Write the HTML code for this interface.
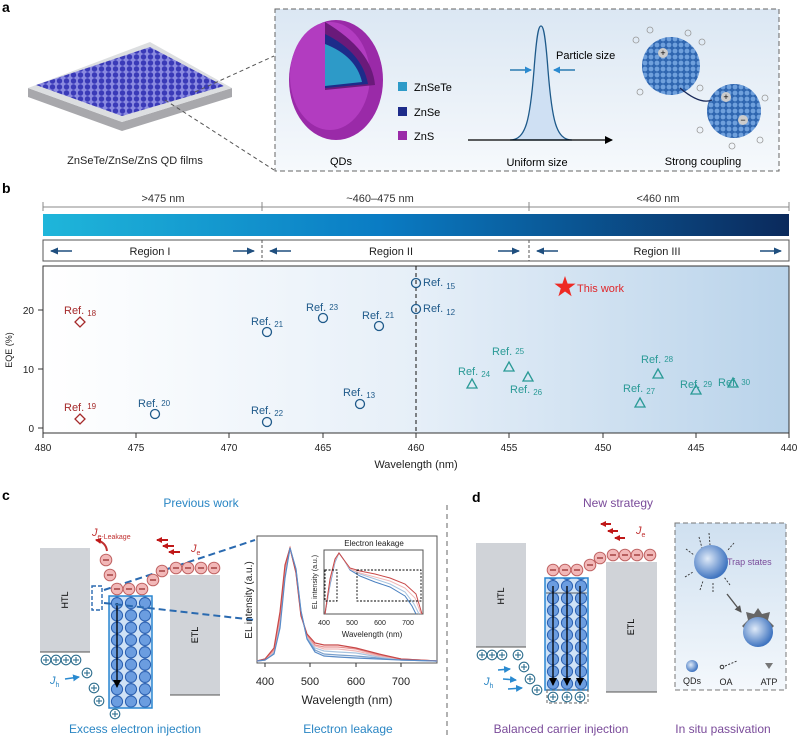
<!DOCTYPE html><html><head><meta charset="utf-8"><style>
html,body{margin:0;padding:0;background:#fff;}
svg{display:block;font-family:"Liberation Sans",sans-serif;}
</style></head><body>
<svg width="799" height="738" viewBox="0 0 799 738" xmlns="http://www.w3.org/2000/svg">
<defs>
<linearGradient id="bar" x1="0" x2="1"><stop offset="0" stop-color="#1fb6da"/><stop offset="0.45" stop-color="#0a7cc4"/><stop offset="1" stop-color="#0b2a5c"/></linearGradient>
<linearGradient id="plotbg" x1="0" x2="1"><stop offset="0" stop-color="#ffffff"/><stop offset="0.5" stop-color="#e6eff8"/><stop offset="1" stop-color="#b9d3ea"/></linearGradient>
<linearGradient id="abg" x1="0" y1="0" x2="0" y2="1"><stop offset="0" stop-color="#dbe7f3"/><stop offset="1" stop-color="#f6f9fc"/></linearGradient>
<linearGradient id="dbg" x1="0" y1="0" x2="0" y2="1"><stop offset="0" stop-color="#cfe0f0"/><stop offset="1" stop-color="#f4f8fc"/></linearGradient>
<radialGradient id="ball" cx="0.4" cy="0.4" r="0.6"><stop offset="0" stop-color="#dfeaf8"/><stop offset="1" stop-color="#3f74c0"/></radialGradient>
<pattern id="qdc" patternUnits="userSpaceOnUse" x="110" y="597" width="14" height="12.3"><rect width="14" height="12.3" fill="#cfe2f6"/><circle cx="7" cy="6.15" r="5.6" fill="#6b9de0" stroke="#2a5fb0" stroke-width="1"/></pattern>
<pattern id="qdd" patternUnits="userSpaceOnUse" x="546" y="580" width="14" height="12.2"><rect width="14" height="12.2" fill="#cfe2f6"/><circle cx="7" cy="6.1" r="5.6" fill="#6b9de0" stroke="#2a5fb0" stroke-width="1"/></pattern>
<pattern id="film" patternUnits="userSpaceOnUse" width="7" height="6"><rect width="7" height="6" fill="#8a8ae0"/><circle cx="3.5" cy="3" r="2.7" fill="#3a3ab8"/></pattern>
<pattern id="cpl" patternUnits="userSpaceOnUse" width="6" height="6"><rect width="6" height="6" fill="#2f66b0"/><circle cx="3" cy="3" r="2.4" fill="#6fa0dc"/></pattern>
<marker id="ah" markerUnits="userSpaceOnUse" markerWidth="8" markerHeight="7" refX="7" refY="3.5" orient="auto"><path d="M0,0 L8,3.5 L0,7z" fill="#1f4f7f"/></marker>
<marker id="ahk" markerUnits="userSpaceOnUse" markerWidth="8" markerHeight="8" refX="7" refY="4" orient="auto"><path d="M0,0 L8,4 L0,8z" fill="#000"/></marker>
<marker id="ahb" markerUnits="userSpaceOnUse" markerWidth="7" markerHeight="7" refX="6" refY="3.5" orient="auto"><path d="M0,0 L7,3.5 L0,7z" fill="#2a8ad0"/></marker>
<marker id="ahr" markerUnits="userSpaceOnUse" markerWidth="6" markerHeight="6" refX="5" refY="3" orient="auto"><path d="M0,0 L6,3 L0,6z" fill="#c01818"/></marker>
<marker id="ahg" markerUnits="userSpaceOnUse" markerWidth="7" markerHeight="7" refX="6" refY="3.5" orient="auto"><path d="M0,0 L7,3.5 L0,7z" fill="#555"/></marker>
<g id="el"><circle r="5.8" fill="#f2b8b8" stroke="#c06464" stroke-width="1"/><line x1="-3" x2="3" stroke="#a03a3a" stroke-width="1.4"/></g>
<g id="h"><circle r="4.8" fill="#fff" stroke="#2f6f8f" stroke-width="1.1"/><line x1="-3" x2="3" stroke="#2f6f8f" stroke-width="1.1"/><line y1="-3" y2="3" stroke="#2f6f8f" stroke-width="1.1"/></g>
</defs>

<!-- ===== Panel a ===== -->
<text x="2" y="12" font-size="14" font-weight="bold">a</text>
<polygon points="28,88 28,97 122,131 232,97 232,88 122,122" fill="#a8a8ac"/>
<polygon points="28,88 150,42 232,88 122,122" fill="#dcdee0"/>
<polygon points="36,85 150,47 224,86 122,116" fill="url(#film)"/>
<line x1="195" y1="92" x2="274" y2="56" stroke="#555" stroke-dasharray="4,3"/>
<line x1="165" y1="100" x2="274" y2="170" stroke="#555" stroke-dasharray="4,3"/>
<text x="135" y="164" font-size="11" text-anchor="middle" fill="#222">ZnSeTe/ZnSe/ZnS QD films</text>
<rect x="275" y="9" width="504" height="162" fill="url(#abg)" stroke="#666" stroke-dasharray="5,3"/>
<ellipse cx="336" cy="80" rx="47" ry="60" fill="#9a2aa8"/>
<ellipse cx="330" cy="76" rx="40" ry="54" fill="#b23cc0"/>
<path d="M325,22 L325,90 L375,85 Q372,50 325,22z" fill="#6a1a7a"/>
<path d="M325,34 L325,88 L368,84 Q362,52 325,34z" fill="#1d2b8a"/>
<path d="M325,44 L325,86 L362,82 Q356,56 325,44z" fill="#2d9ac8"/>
<rect x="398" y="82" width="9" height="9" fill="#2d9ac8"/><text x="414" y="91" font-size="11">ZnSeTe</text>
<rect x="398" y="107" width="9" height="9" fill="#1d2b8a"/><text x="414" y="116" font-size="11">ZnSe</text>
<rect x="398" y="131" width="9" height="9" fill="#9a2aa8"/><text x="414" y="140" font-size="11">ZnS</text>
<path d="M510,140 C526,140 530,120 534,70 C537,30 539,26 541,26 C543,26 545,30 548,70 C552,120 556,140 572,140z" fill="#cfe0f3" stroke="#1e5a8a" stroke-width="1.3"/>
<line x1="468" y1="140" x2="612" y2="140" stroke="#000" stroke-width="1.2" marker-end="url(#ahk)"/>
<line x1="510" y1="70" x2="531" y2="70" stroke="#2a7ab0" stroke-width="1.5" marker-end="url(#ahb)"/>
<line x1="575" y1="70" x2="554" y2="70" stroke="#2a7ab0" stroke-width="1.5" marker-end="url(#ahb)"/>
<text x="556" y="59" font-size="11">Particle size</text>
<text x="330" y="165" font-size="11">QDs</text>
<text x="537" y="166" font-size="11" text-anchor="middle">Uniform size</text>
<text x="703" y="165" font-size="11" text-anchor="middle">Strong coupling</text>
<circle cx="671" cy="66" r="29" fill="url(#cpl)"/>
<circle cx="734" cy="111" r="27" fill="url(#cpl)"/>
<circle cx="663" cy="53" r="5" fill="#ccc"/><text x="663" y="56" font-size="9" text-anchor="middle">+</text>
<circle cx="726" cy="97" r="5" fill="#ccc"/><text x="726" y="100" font-size="9" text-anchor="middle">+</text>
<circle cx="743" cy="120" r="5" fill="#ccc"/><text x="743" y="123" font-size="9" text-anchor="middle">−</text>
<path d="M680,88 Q700,105 712,100" stroke="#1a2a5a" stroke-width="1.3" fill="none"/>
<g fill="none" stroke="#999" stroke-width="0.8"><circle cx="636" cy="40" r="3"/><circle cx="640" cy="92" r="3"/><circle cx="702" cy="42" r="3"/><circle cx="700" cy="88" r="3"/><circle cx="765" cy="98" r="3"/><circle cx="700" cy="130" r="3"/><circle cx="760" cy="140" r="3"/><circle cx="732" cy="146" r="3"/><circle cx="650" cy="30" r="3"/><circle cx="688" cy="33" r="3"/></g>

<!-- ===== Panel b ===== -->
<text x="2" y="193" font-size="14" font-weight="bold">b</text>
<text x="163" y="202" font-size="11" text-anchor="middle" fill="#333">&gt;475 nm</text>
<text x="380" y="202" font-size="11" text-anchor="middle" fill="#333">~460–475 nm</text>
<text x="658" y="202" font-size="11" text-anchor="middle" fill="#333">&lt;460 nm</text>
<g stroke="#888" stroke-width="1"><line x1="43" y1="207" x2="789" y2="207"/><line x1="43" y1="202" x2="43" y2="211"/><line x1="262" y1="202" x2="262" y2="211"/><line x1="529" y1="202" x2="529" y2="211"/><line x1="789" y1="202" x2="789" y2="211"/></g>
<rect x="43" y="214" width="746" height="22" fill="url(#bar)"/>
<rect x="43" y="240" width="746" height="21" fill="#fff" stroke="#555"/>
<line x1="262" y1="240" x2="262" y2="261" stroke="#555" stroke-dasharray="3,2"/>
<line x1="529" y1="240" x2="529" y2="261" stroke="#555" stroke-dasharray="3,2"/>
<g stroke="#1f4f7f" stroke-width="1.4" marker-end="url(#ah)">
<line x1="72" y1="251" x2="51" y2="251"/><line x1="233" y1="251" x2="254" y2="251"/>
<line x1="291" y1="251" x2="270" y2="251"/><line x1="498" y1="251" x2="519" y2="251"/>
<line x1="558" y1="251" x2="537" y2="251"/><line x1="760" y1="251" x2="781" y2="251"/></g>
<text x="150" y="255" font-size="11" text-anchor="middle" fill="#222">Region I</text>
<text x="391" y="255" font-size="11" text-anchor="middle" fill="#222">Region II</text>
<text x="657" y="255" font-size="11" text-anchor="middle" fill="#222">Region III</text>

<rect x="43" y="266" width="746" height="167" fill="url(#plotbg)" stroke="#333"/>
<line x1="416" y1="266" x2="416" y2="433" stroke="#111" stroke-dasharray="4,3"/>
<g stroke="#333"><line x1="38" y1="428" x2="43" y2="428"/><line x1="38" y1="369" x2="43" y2="369"/><line x1="38" y1="310" x2="43" y2="310"/>
<line x1="43" y1="433" x2="43" y2="438"/><line x1="136" y1="433" x2="136" y2="438"/><line x1="229" y1="433" x2="229" y2="438"/><line x1="323" y1="433" x2="323" y2="438"/><line x1="416" y1="433" x2="416" y2="438"/><line x1="509" y1="433" x2="509" y2="438"/><line x1="603" y1="433" x2="603" y2="438"/><line x1="696" y1="433" x2="696" y2="438"/><line x1="789" y1="433" x2="789" y2="438"/></g>
<g font-size="10" fill="#222" text-anchor="end"><text x="34" y="432">0</text><text x="34" y="373">10</text><text x="34" y="314">20</text></g>
<g font-size="10" fill="#222" text-anchor="middle"><text x="43" y="451">480</text><text x="136" y="451">475</text><text x="229" y="451">470</text><text x="323" y="451">465</text><text x="416" y="451">460</text><text x="509" y="451">455</text><text x="603" y="451">450</text><text x="696" y="451">445</text><text x="789" y="451">440</text></g>
<text x="416" y="468" font-size="11" text-anchor="middle" fill="#222">Wavelength (nm)</text>
<text transform="translate(12,350) rotate(-90)" font-size="9" text-anchor="middle" fill="#222">EQE (%)</text>
<g fill="none" stroke="#a52a2a" stroke-width="1.3"><path d="M80,317 l5,5 -5,5 -5,-5z"/><path d="M80,414 l5,5 -5,5 -5,-5z"/></g>
<g fill="none" stroke="#1f5a8a" stroke-width="1.3"><circle cx="155" cy="414" r="4.5"/><circle cx="267" cy="332" r="4.5"/><circle cx="267" cy="422" r="4.5"/><circle cx="323" cy="318" r="4.5"/><circle cx="360" cy="404" r="4.5"/><circle cx="379" cy="326" r="4.5"/><circle cx="416" cy="283" r="4.5"/><circle cx="416" cy="309" r="4.5"/></g>
<g fill="none" stroke="#2a9a96" stroke-width="1.3"><path d="M472,379 l5,9 h-10z"/><path d="M509,362 l5,9 h-10z"/><path d="M528,372 l5,9 h-10z"/><path d="M640,398 l5,9 h-10z"/><path d="M658,369 l5,9 h-10z"/><path d="M696,385 l5,9 h-10z"/><path d="M733,378 l5,9 h-10z"/></g>
<path d="M565,276 l2.6,7.6 8,0 -6.4,4.8 2.4,7.8 -6.6,-4.7 -6.6,4.7 2.4,-7.8 -6.4,-4.8 8,0z" fill="#ee2a24"/>
<text x="577" y="292" font-size="11" fill="#e0262a">This work</text>
<g font-size="11" fill="#a52a2a"><text x="64" y="314">Ref.<tspan font-size="8" dx="3" dy="2">18</tspan></text><text x="64" y="411">Ref.<tspan font-size="8" dx="3" dy="-2">19</tspan></text></g>
<g font-size="11" fill="#1f5a8a">
<text x="138" y="407">Ref.<tspan font-size="8" dx="3" dy="-1">20</tspan></text>
<text x="251" y="325">Ref.<tspan font-size="8" dx="3" dy="2">21</tspan></text>
<text x="251" y="414">Ref.<tspan font-size="8" dx="3" dy="2">22</tspan></text>
<text x="306" y="311">Ref.<tspan font-size="8" dx="3" dy="-1">23</tspan></text>
<text x="343" y="396">Ref.<tspan font-size="8" dx="3" dy="2">13</tspan></text>
<text x="362" y="319">Ref.<tspan font-size="8" dx="3" dy="-1">21</tspan></text>
<text x="423" y="286">Ref.<tspan font-size="8" dx="3" dy="3">15</tspan></text>
<text x="423" y="312">Ref.<tspan font-size="8" dx="3" dy="3">12</tspan></text></g>
<g font-size="11" fill="#2a9a96">
<text x="458" y="375">Ref.<tspan font-size="8" dx="3" dy="2">24</tspan></text>
<text x="492" y="355">Ref.<tspan font-size="8" dx="3" dy="-1">25</tspan></text>
<text x="510" y="393">Ref.<tspan font-size="8" dx="3" dy="2">26</tspan></text>
<text x="623" y="392">Ref.<tspan font-size="8" dx="3" dy="2">27</tspan></text>
<text x="641" y="363">Ref.<tspan font-size="8" dx="3" dy="-1">28</tspan></text>
<text x="680" y="388">Ref.<tspan font-size="8" dx="3" dy="-1">29</tspan></text>
<text x="718" y="386">Ref.<tspan font-size="8" dx="3" dy="-1">30</tspan></text></g>

<!-- ===== Panel c ===== -->
<text x="2" y="500" font-size="14" font-weight="bold">c</text>
<text x="201" y="507" font-size="12" text-anchor="middle" fill="#2a86c4">Previous work</text>
<rect x="40" y="548" width="50" height="104" fill="#d0d3d8"/><line x1="40" y1="652" x2="90" y2="652" stroke="#555"/>
<text transform="translate(68,600) rotate(-90)" font-size="9" text-anchor="middle">HTL</text>
<rect x="170" y="575" width="50" height="120" fill="#d0d3d8"/><line x1="170" y1="695" x2="220" y2="695" stroke="#555"/>
<text transform="translate(198,635) rotate(-90)" font-size="9" text-anchor="middle">ETL</text>
<rect x="109" y="596" width="43" height="112" fill="url(#qdc)" stroke="#2a86d0" stroke-width="1.5"/>
<line x1="117" y1="603" x2="117" y2="687" stroke="#000" stroke-width="1.3" marker-end="url(#ahk)"/>
<rect x="92" y="586" width="10" height="24" fill="none" stroke="#2a6ab0" stroke-width="1.4" stroke-dasharray="4,2"/>
<line x1="104" y1="590" x2="255" y2="540" stroke="#2a6ab0" stroke-width="2" stroke-dasharray="7,4"/>
<line x1="104" y1="603" x2="255" y2="620" stroke="#2a6ab0" stroke-width="2" stroke-dasharray="7,4"/>
<use href="#h" x="46" y="660"/><use href="#h" x="56" y="660"/><use href="#h" x="66" y="660"/><use href="#h" x="76" y="660"/>
<use href="#h" x="87" y="673"/><use href="#h" x="94" y="688"/><use href="#h" x="99" y="701"/><use href="#h" x="115" y="714"/>
<text x="50" y="684" font-size="11" font-style="italic" fill="#2a86c4">J<tspan font-size="7" dy="3" font-style="normal">h</tspan></text>
<line x1="65" y1="679" x2="79" y2="677" stroke="#2a8ad0" stroke-width="1.6" marker-end="url(#ahb)"/>
<use href="#el" x="106" y="560"/><use href="#el" x="110" y="575"/><use href="#el" x="117" y="589"/><use href="#el" x="129" y="589"/><use href="#el" x="142" y="589"/><use href="#el" x="153" y="580"/><use href="#el" x="162" y="571"/><use href="#el" x="176" y="568"/><use href="#el" x="188" y="568"/><use href="#el" x="201" y="568"/><use href="#el" x="214" y="568"/>
<text x="92" y="536" font-size="11" font-style="italic" fill="#c03030">J<tspan font-size="7" dy="3" font-style="normal">e-Leakage</tspan></text>
<path d="M107,551 Q106,542 96,540" stroke="#c03030" stroke-width="2" fill="none" marker-end="url(#ahr)"/>
<text x="191" y="552" font-size="11" font-style="italic" fill="#c03030">J<tspan font-size="7" dy="3" font-style="normal">e</tspan></text>
<g stroke="#c01818" stroke-width="2" marker-end="url(#ahr)"><line x1="168" y1="540" x2="157" y2="540"/><line x1="174" y1="546" x2="163" y2="546"/><line x1="180" y1="552" x2="169" y2="552"/></g>
<text x="135" y="733" font-size="12" text-anchor="middle" fill="#2a86c4">Excess electron injection</text>
<text x="348" y="733" font-size="12" text-anchor="middle" fill="#2a86c4">Electron leakage</text>
<!-- EL plot -->
<rect x="257" y="536" width="180" height="127" fill="#fff" stroke="#555"/>
<g fill="none" stroke-width="1.2">
<path d="M257,661 L265,660 274,653 280,625 285,575 290,548 296,570 301,612 307,638 315,650 324,654 338,655 356,656 379,658 401,660 437,661" stroke="#7aa0cc"/>
<path d="M257,661 L265,660 274,652 280,622 285,572 290,548 296,571 301,613 307,637 315,648 324,651 338,652 356,653 379,657 401,660 437,661" stroke="#a8c4e0"/>
<path d="M257,661 L265,660 274,651 280,619 285,570 290,548 296,572 301,614 307,636 315,646 324,649 338,649 356,651 379,656 401,659 437,661" stroke="#f0b8b8"/>
<path d="M257,661 L265,659 274,650 280,616 285,568 290,548 296,572 301,615 307,635 315,645 324,647 338,647 356,649 379,655 401,659 437,661" stroke="#e89090"/>
<path d="M257,661 L265,659 274,648 280,612 285,565 290,548 296,573 301,616 307,634 315,643 324,645 338,645 356,648 379,654 401,659 437,661" stroke="#c84848"/>
<path d="M257,661 L265,660 274,654 280,628 285,578 290,548 296,569 301,611 307,639 315,652 324,656 338,657 356,658 379,659 401,660 437,661" stroke="#5a8cc8"/>
</g>
<g stroke="#333"><line x1="265" y1="663" x2="265" y2="667"/><line x1="310" y1="663" x2="310" y2="667"/><line x1="356" y1="663" x2="356" y2="667"/><line x1="401" y1="663" x2="401" y2="667"/></g>
<g font-size="11" text-anchor="middle" fill="#222"><text x="265" y="685">400</text><text x="310" y="685">500</text><text x="356" y="685">600</text><text x="401" y="685">700</text></g>
<text x="347" y="704" font-size="12" text-anchor="middle" fill="#222">Wavelength (nm)</text>
<text transform="translate(252,600) rotate(-90)" font-size="10" text-anchor="middle" fill="#222">EL intensity (a.u.)</text>
<!-- inset -->
<rect x="324" y="550" width="99" height="64" fill="#fff" stroke="#555"/>
<text x="374" y="546" font-size="8" text-anchor="middle" fill="#222">Electron leakage</text>
<g fill="none" stroke-width="1">
<path d="M325,614 L330,585 335,562 339,553 344,560 350,570 360,576 375,582 390,587 405,596 412,606 416,614" stroke="#4a80c0"/>
<path d="M325,614 L330,583 335,561 339,553 344,560 350,569 360,574 375,579 390,584 405,592 414,604 419,614" stroke="#a8c4e0"/>
<path d="M325,614 L330,581 335,560 339,553 344,560 350,569 360,573 375,577 390,581 405,588 415,598 421,614" stroke="#f0b8b8"/>
<path d="M325,614 L330,579 335,559 339,553 344,560 350,568 360,571 375,574 390,578 405,584 416,594 422,614" stroke="#c84848"/>
</g>
<g fill="none" stroke="#000" stroke-dasharray="2,1.5" stroke-width="0.9"><rect x="325" y="570" width="12" height="31"/><rect x="357" y="570" width="64" height="31"/></g>
<g font-size="7" text-anchor="middle" fill="#222"><text x="324" y="625">400</text><text x="352" y="625">500</text><text x="380" y="625">600</text><text x="408" y="625">700</text></g>
<text x="372" y="637" font-size="8" text-anchor="middle" fill="#222">Wavelength (nm)</text>
<text transform="translate(317,582) rotate(-90)" font-size="7" text-anchor="middle" fill="#222">EL intensity (a.u.)</text>

<line x1="447" y1="505" x2="447" y2="736" stroke="#666" stroke-dasharray="5,4"/>

<!-- ===== Panel d ===== -->
<text x="472" y="502" font-size="14" font-weight="bold">d</text>
<text x="618" y="507" font-size="12" text-anchor="middle" fill="#7a4b9a">New strategy</text>
<rect x="476" y="543" width="50" height="104" fill="#d0d3d8"/><line x1="476" y1="647" x2="526" y2="647" stroke="#555"/>
<text transform="translate(504,596) rotate(-90)" font-size="9" text-anchor="middle">HTL</text>
<rect x="606" y="562" width="51" height="130" fill="#d0d3d8"/><line x1="606" y1="692" x2="657" y2="692" stroke="#555"/>
<text transform="translate(634,627) rotate(-90)" font-size="9" text-anchor="middle">ETL</text>
<rect x="545" y="578" width="43" height="112" fill="url(#qdd)" stroke="#2a86d0" stroke-width="1.5"/>
<line x1="546" y1="593" x2="587" y2="593" stroke="#333" stroke-width="0.8"/>
<g stroke="#000" stroke-width="1.3" marker-end="url(#ahk)"><line x1="553" y1="586" x2="553" y2="685"/><line x1="567" y1="586" x2="567" y2="685"/><line x1="580" y1="586" x2="580" y2="685"/></g>
<rect x="547" y="690" width="41" height="13" fill="none" stroke="#666" stroke-dasharray="3,2"/>
<use href="#h" x="553" y="697"/><use href="#h" x="567" y="697"/><use href="#h" x="580" y="697"/>
<use href="#h" x="482" y="655"/><use href="#h" x="492" y="655"/><use href="#h" x="502" y="655"/><use href="#h" x="518" y="655"/>
<use href="#h" x="524" y="667"/><use href="#h" x="530" y="679"/><use href="#h" x="537" y="690"/>
<text x="484" y="685" font-size="11" font-style="italic" fill="#2a86c4">J<tspan font-size="7" dy="3" font-style="normal">h</tspan></text>
<g stroke="#2a8ad0" stroke-width="1.6" marker-end="url(#ahb)"><line x1="498" y1="670" x2="510" y2="669"/><line x1="503" y1="679" x2="516" y2="680"/><line x1="508" y1="689" x2="522" y2="688"/></g>
<use href="#el" x="553" y="570"/><use href="#el" x="565" y="570"/><use href="#el" x="577" y="570"/><use href="#el" x="590" y="565"/><use href="#el" x="600" y="558"/><use href="#el" x="613" y="555"/><use href="#el" x="625" y="555"/><use href="#el" x="637" y="555"/><use href="#el" x="650" y="555"/>
<text x="636" y="534" font-size="11" font-style="italic" fill="#c03030">J<tspan font-size="7" dy="3" font-style="normal">e</tspan></text>
<g stroke="#c01818" stroke-width="2" marker-end="url(#ahr)"><line x1="611" y1="524" x2="601" y2="524"/><line x1="618" y1="531" x2="608" y2="531"/><line x1="625" y1="538" x2="615" y2="538"/></g>
<rect x="675" y="523" width="111" height="167" fill="url(#dbg)" stroke="#777" stroke-dasharray="5,3"/>
<g stroke="#333" stroke-dasharray="2,1.5" stroke-width="0.9"><line x1="699" y1="537" x2="702" y2="548"/><line x1="709" y1="533" x2="710" y2="545"/><line x1="686" y1="549" x2="694" y2="555"/><line x1="734" y1="543" x2="727" y2="551"/><line x1="685" y1="577" x2="693" y2="572"/><line x1="700" y1="590" x2="703" y2="581"/><line x1="713" y1="592" x2="713" y2="582"/><line x1="730" y1="585" x2="724" y2="577"/></g>
<circle cx="711" cy="562" r="17" fill="url(#ball)"/>
<text x="727" y="565" font-size="9" fill="#7a4b9a">Trap states</text>
<line x1="727" y1="594" x2="741" y2="612" stroke="#555" stroke-width="1.4" marker-end="url(#ahg)"/>
<path d="M758,608 l4,6 8,-2 -2,8 6,6 -6,6 2,8 -8,-2 -4,6 -4,-6 -8,2 2,-8 -6,-6 6,-6 -2,-8 8,2z" fill="#666"/>
<circle cx="758" cy="632" r="15" fill="url(#ball)"/>
<circle cx="692" cy="666" r="6" fill="url(#ball)"/>
<circle cx="722" cy="667" r="1.8" fill="none" stroke="#333"/><line x1="725" y1="666" x2="737" y2="661" stroke="#333" stroke-dasharray="2,1.5"/>
<path d="M765,663 h8 l-4,6z" fill="#777"/>
<g font-size="9" text-anchor="middle" fill="#222"><text x="692" y="684">QDs</text><text x="726" y="685">OA</text><text x="769" y="685">ATP</text></g>
<text x="561" y="733" font-size="12" text-anchor="middle" fill="#7a4b9a">Balanced carrier injection</text>
<text x="723" y="733" font-size="12" text-anchor="middle" fill="#7a4b9a">In situ passivation</text>
</svg>
</body></html>
